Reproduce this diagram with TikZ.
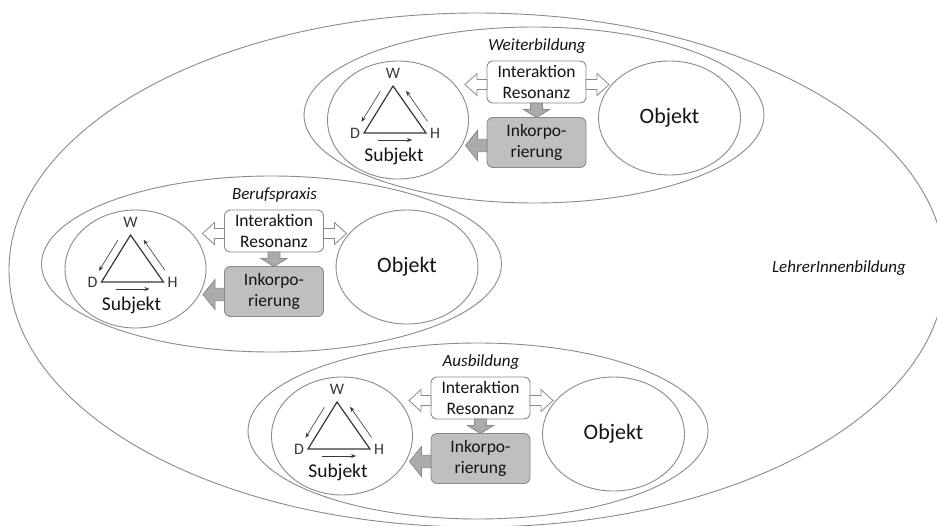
\documentclass[tikz,border=0pt]{standalone}
\usepackage{fontspec}
\setmainfont{Carlito}
\usetikzlibrary{shapes.geometric,arrows.meta}
\definecolor{linegray}{HTML}{8A8A8A}
\definecolor{txt}{HTML}{141414}
\definecolor{vtxt}{HTML}{383838}
\definecolor{boxgray}{HTML}{BFBFBF}
\definecolor{arrgray}{HTML}{ABABAB}
\tikzset{
 ell/.style={ellipse, draw=linegray, line width=0.9pt, inner sep=0pt, outer sep=0pt},
 bigell/.style={ell, minimum width=936pt, minimum height=514pt},
 grp/.style={ell, minimum width=460pt, minimum height=176pt},
 subj/.style={ell, minimum width=141pt, minimum height=118pt},
 obj/.style={ell, minimum width=142pt, minimum height=114pt, font=\fontsize{22}{26}\selectfont, text=txt},
 grptitle/.style={font=\fontsize{17}{20}\selectfont\itshape, text=txt, inner sep=0pt},
 intbox/.style={draw=linegray, fill=white, rounded corners=6pt, minimum width=99pt, minimum height=42pt, inner sep=0pt, align=center, font=\fontsize{17.5}{21.5}\selectfont, text=txt, line width=0.9pt},
 inkbox/.style={intbox, fill=boxgray, minimum height=50pt},
 vlab/.style={font=\fontsize{16}{18}\selectfont, text=vtxt, inner sep=0pt},
 subjtxt/.style={font=\fontsize{19.5}{22}\selectfont, text=txt, inner sep=0pt},
 tri/.style={draw=vtxt, line width=1.2pt, line join=miter},
 sarr/.style={draw=vtxt, line width=0.6pt, -{Stealth[length=5pt,width=4pt]}},
 warr/.style={draw=linegray, fill=white, line width=0.8pt, line join=miter},
 garr/.style={draw=linegray, fill=arrgray, line width=0.8pt, line join=miter}
}
\newcommand\drawgroup[4]{%
\begin{scope}[shift={(#2,#3)}]
 \node[grp] (#1g) at (0,0) {};
 \node[grptitle] (#1t) at (3,-69) {#4};
 \node[subj] (#1s) at (-136,5) {};
 \node[obj] (#1o) at (135.5,3) {Objekt};
 \node[intbox] (#1i) at (2.5,-33) {Interaktion\\Resonanz};
 \node[inkbox] (#1k) at (2.5,27.5) {Inkorpo-\\rierung};
 \coordinate (#1W) at (-141,-29);
 \coordinate (#1D) at (-170,18);
 \coordinate (#1H) at (-108,18);
 \draw[tri] (#1W) -- (#1D) -- (#1H) -- cycle;
 \node[vlab] (#1wl) at (-141,-42) {W};
 \node[vlab] (#1dl) at (-179,18) {D};
 \node[vlab] (#1hl) at (-99,18) {H};
 \node[subjtxt] (#1st) at (-140,41) {Subjekt};
 \coordinate (#1a1) at (-153.6,-23.8);
 \coordinate (#1a2) at (-172.5,6.8);
 \coordinate (#1b1) at (-106.5,6.4);
 \coordinate (#1b2) at (-127.9,-24.2);
 \coordinate (#1c1) at (-156,25);
 \coordinate (#1c2) at (-122,25);
 \draw[sarr] (#1a1) -- (#1a2);
 \draw[sarr] (#1b1) -- (#1b2);
 \draw[sarr] (#1c1) -- (#1c2);
 % block arrows
 \coordinate (#1pL) at (-47,-30.5);
 \coordinate (#1pR) at (52,-30.5);
 \coordinate (#1pD) at (2.5,-12);
 \coordinate (#1pK) at (-47,30.5);
 \draw[warr] (#1pL) ++(0,-5) -- ++(-10,0) -- ++(0,-6) -- ++(-12,11) -- ++(12,11) -- ++(0,-6) -- ++(10,0) -- cycle;
 \draw[warr] (#1pR) ++(0,-5) -- ++(11,0) -- ++(0,-6) -- ++(12,11) -- ++(-12,11) -- ++(0,-6) -- ++(-11,0) -- cycle;
 \draw[garr] (#1pD) ++(-6,0) -- ++(0,6.5) -- ++(-7,0) -- ++(13,8) -- ++(13,-8) -- ++(-7,0) -- ++(0,-6.5) -- cycle;
 \draw[garr] (#1pK) ++(0,-6.2) -- ++(-9.5,0) -- ++(0,-8.8) -- ++(-12,15) -- ++(12,15) -- ++(0,-8.8) -- ++(9.5,0) -- cycle;
\end{scope}}
\begin{document}
\begin{tikzpicture}[x=1pt,y=-1pt]
\useasboundingbox (0,0) rectangle (937,525);
\fill[white] (0,0) rectangle (937,525);
\node[bigell] (outer) at (477,270) {};
\node[grptitle] (lehrer) at (839,268) {LehrerInnenbildung};
\drawgroup{w}{534}{115}{Weiterbildung}
\drawgroup{b}{271.5}{264}{Berufspraxis}
\drawgroup{a}{478}{431}{Ausbildung}
\end{tikzpicture}
\end{document}
